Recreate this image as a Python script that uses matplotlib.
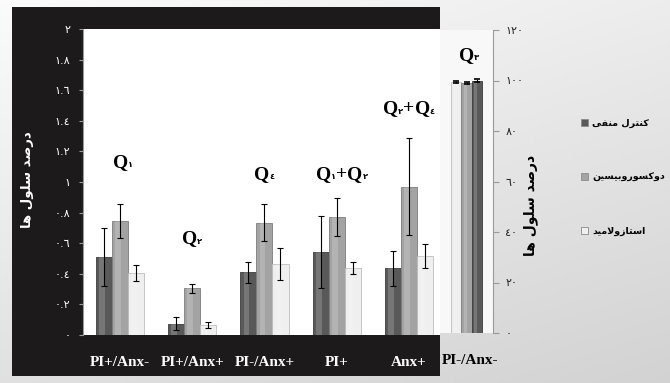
import matplotlib
matplotlib.use('Agg')
import matplotlib.pyplot as plt
import numpy as np
from matplotlib.patches import Rectangle

# data (left axis, fraction)
categories = ['PI+/Anx-', 'PI+/Anx+', 'PI-/Anx+', 'PI+', 'Anx+']
control = [0.51, 0.075, 0.41, 0.54, 0.435]
control_err = [0.19, 0.045, 0.07, 0.235, 0.115]
doxo = [0.745, 0.305, 0.735, 0.77, 0.97]
doxo_err = [0.11, 0.03, 0.12, 0.125, 0.315]
aceta = [0.405, 0.065, 0.465, 0.44, 0.515]
aceta_err = [0.055, 0.02, 0.105, 0.04, 0.08]

# last group, right axis (percent)
last_category = 'PI-/Anx-'
last_control = 100.0
last_doxo = 99.0
last_aceta = 99.5
last_err = 0.4

series_names = ['کنترل منفی', 'دوکسوروبیسین', 'استازولامید']
ylabel = 'درصد سلول ها'
q_labels = ['Q١', 'Q٢', 'Q٤', 'Q١+Q٢', 'Q٢+Q٤']
q_last = 'Q٣'
left_ticks = [0, 0.2, 0.4, 0.6, 0.8, 1.0, 1.2, 1.4, 1.6, 1.8, 2.0]
right_ticks = [0, 20, 40, 60, 80, 100, 120]

colors = ['#595959', '#a3a3a3', '#efefef']
edges = ['#3c3c3c', '#7d7d7d', '#bdbdbd']

# --- crude arabic shaping (matplotlib has no bidi / joining)
_forms = {
    'ا': '\ufe8d\ufe8e', 'د': '\ufea9\ufeaa', 'ر': '\ufead\ufeae',
    'ز': '\ufeaf\ufeb0', 'و': '\ufeed\ufeee',
    'ب': '\ufe8f\ufe90\ufe91\ufe92', 'ت': '\ufe95\ufe96\ufe97\ufe98',
    'س': '\ufeb1\ufeb2\ufeb3\ufeb4', 'ص': '\ufeb9\ufeba\ufebb\ufebc',
    'ف': '\ufed1\ufed2\ufed3\ufed4', 'ل': '\ufedd\ufede\ufedf\ufee0',
    'م': '\ufee1\ufee2\ufee3\ufee4', 'ن': '\ufee5\ufee6\ufee7\ufee8',
    'ه': '\ufee9\ufeea\ufeeb\ufeec', 'ک': '\ufb8e\ufb8f\ufb90\ufb91',
    'ی': '\ufbfc\ufbfd\ufbfe\ufbff',
}


def shape(s):
    out = []
    i = 0
    while i < len(s):
        c = s[i]
        if c not in _forms:
            out.append(c)
            i += 1
            continue
        prev = s[i - 1] if i > 0 else ''
        jp = prev in _forms and len(_forms[prev]) == 4
        if c == 'ل' and i + 1 < len(s) and s[i + 1] == 'ا':
            out.append('\ufefc' if jp else '\ufefb')
            i += 2
            continue
        nxt = s[i + 1] if i + 1 < len(s) else ''
        jn = len(_forms[c]) == 4 and nxt in _forms
        f = _forms[c]
        if jp and jn:
            g = f[3]
        elif jp:
            g = f[1]
        elif jn:
            g = f[2]
        else:
            g = f[0]
        out.append(g)
        i += 1
    return ''.join(reversed(out))


AR = str.maketrans('0123456789', '٠١٢٣٤٥٦٧٨٩')


def ar_num(v):
    return ('%g' % round(v, 1)).translate(AR)


W, H = 670, 383
fig = plt.figure(figsize=(W / 100, H / 100), dpi=100)

# background gradient (light grey, darker towards bottom right)
bg = fig.add_axes([0, 0, 1, 1], zorder=-10)
gx, gy = np.meshgrid(np.linspace(0, 1, 200), np.linspace(0, 1, 120))
g = 0.985 - 0.16 * (0.35 * gx + 0.65 * gy)
bg.imshow(np.dstack([g, g, g]), aspect='auto', extent=[0, 1, 0, 1], origin='upper')
bg.axis('off')

# black frame behind the left chart
fig.patches.append(Rectangle((12 / W, 7 / H), 428 / W, 369 / H, transform=fig.transFigure,
                             facecolor='#1c1a1a', edgecolor='none', zorder=-5))

serif = ['Liberation Serif', 'DejaVu Sans']
ekw = dict(ecolor='black', elinewidth=0.8, capsize=2.5, capthick=0.8, zorder=4)

# ---- left chart
ax = fig.add_axes([83 / W, (H - 335) / H, 357 / W, 306 / H])
ax.set_facecolor('white')
x = np.arange(len(categories))
bw = 0.222
for k, (vals, errs) in enumerate([(control, control_err), (doxo, doxo_err), (aceta, aceta_err)]):
    pos = x + (k - 1) * bw
    ax.bar(pos, vals, bw, color=colors[k], edgecolor=edges[k], linewidth=0.6,
           yerr=errs, error_kw=ekw)
    # soft highlight strip to hint the cylinder look
    ax.bar(pos - bw * 0.12, vals, bw * 0.35, color='white', alpha=0.18, linewidth=0)
ax.set_xlim(-0.512, 4.43)
ax.set_ylim(0, 2)
ax.set_yticks(left_ticks, [ar_num(t) for t in left_ticks])
ax.tick_params(axis='y', colors='#9a9a9a', labelcolor='white', labelsize=8, length=3, pad=6)
ax.set_xticks(x, categories)
ax.tick_params(axis='x', length=0, pad=15, labelcolor='white')
for lab in ax.get_xticklabels():
    lab.set_fontfamily(serif)
    lab.set_fontweight('bold')
    lab.set_fontsize(11)
for s in ['top', 'right']:
    ax.spines[s].set_visible(False)
ax.spines['left'].set_color('#9a9a9a')
ax.spines['bottom'].set_visible(False)

# ---- right chart (last group)
ax2 = fig.add_axes([440 / W, (H - 333) / H, 53 / W, 303 / H])
ax2.set_facecolor('#f8f8f8')
lx = np.array([-1, 0, 1]) * 0.3
last_vals = [last_aceta, last_doxo, last_control]
ax2.bar(lx, last_vals, 0.3, color=colors[::-1], edgecolor=edges[::-1], linewidth=0.6,
        yerr=last_err, error_kw=dict(ecolor='black', elinewidth=0.8, capsize=2, capthick=1.2))
ax2.bar(lx - 0.03, last_vals, 0.1, color='white', alpha=0.18, linewidth=0)
ax2.set_xlim(-0.79, 0.79)
ax2.set_ylim(0, 120)
ax2.yaxis.tick_right()
ax2.set_yticks(right_ticks, [ar_num(t) for t in right_ticks])
ax2.tick_params(axis='y', colors='#9a9a9a', labelcolor='#222222', labelsize=8, length=4, pad=5)
ax2.set_xticks([0.1], [last_category])
ax2.tick_params(axis='x', length=0, pad=15, labelcolor='black')
for lab in ax2.get_xticklabels():
    lab.set_fontfamily(serif)
    lab.set_fontweight('bold')
    lab.set_fontsize(11)
for s in ['top', 'left', 'bottom']:
    ax2.spines[s].set_visible(False)
ax2.spines['right'].set_color('#9a9a9a')


# ---- Q labels (big Q, small subscript digit)
def qlabel(a, xc, yc, s):
    first = None
    prev = None
    arts = []
    for ch in s:
        small = ch in '٠١٢٣٤٥٦٧٨٩'
        kw = dict(fontfamily=serif, fontweight='bold', color='black',
                  fontsize=6 if small else 14)
        if first is None:
            t = a.text(xc, yc, ch, ha='left', va='center', **kw)
            first = t
        elif small:
            t = a.annotate(ch, xy=(1, 0.08), xycoords=(prev, first), ha='left', va='bottom', **kw)
        else:
            t = a.annotate(ch, xy=(1, 0), xycoords=(prev, first), ha='left', va='bottom', **kw)
        prev = t
        arts.append(t)
    return first, arts


q_x = [0.04, 1.0, 2.0, 3.07, 4.0]
q_y = [1.13, 0.63, 1.05, 1.05, 1.48]
groups = []
for lab, qx, qy in zip(q_labels, q_x, q_y):
    groups.append((ax, qx, qlabel(ax, qx, qy, lab)))
groups.append((ax2, 0.08, qlabel(ax2, 0.08, 110, q_last)))

fig.canvas.draw()
r = fig.canvas.get_renderer()
for a, qx, (first, arts) in groups:
    ext = [t.get_window_extent(r) for t in arts]
    w = max(e.x1 for e in ext) - min(e.x0 for e in ext)
    ppu = a.transData.transform((1, 0))[0] - a.transData.transform((0, 0))[0]
    first.set_x(qx - w / 2 / ppu)

# ---- axis titles
fig.text(28 / W, 1 - 180 / H, shape(ylabel), rotation=90, ha='center', va='center',
         color='white', fontsize=9.5, fontweight='bold', family='DejaVu Sans')
fig.text(531 / W, 1 - 205 / H, shape(ylabel), rotation=90, ha='center', va='center',
         color='black', fontsize=10, fontweight='bold', family='DejaVu Sans')

# ---- legend
handles = [Rectangle((0, 0), 1, 1, facecolor=colors[k], edgecolor='#8a8a8a', linewidth=0.6)
           for k in range(3)]
leg = fig.legend(handles, [shape(n) for n in series_names], loc='upper left',
                 bbox_to_anchor=(576 / W, 1 - 114 / H), frameon=False,
                 handlelength=0.8, handleheight=0.8, handletextpad=0.4,
                 labelspacing=4.75, borderpad=0, prop=dict(family='DejaVu Sans', weight='bold', size=6.8))

fig.savefig('out.png', dpi=100)
